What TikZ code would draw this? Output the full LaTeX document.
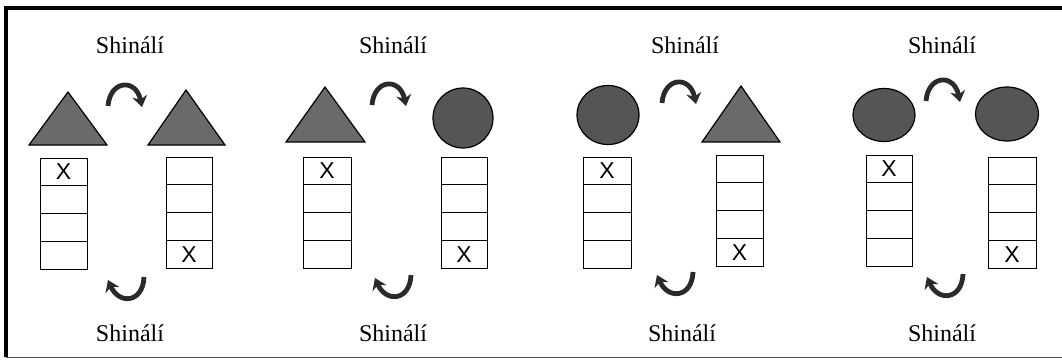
\documentclass[tikz,border=0pt]{standalone}
\usepackage{fontspec}
\setmainfont{Liberation Serif}
\newfontfamily\xfont{Liberation Sans}
\usetikzlibrary{arrows.meta}
\definecolor{trifill}{HTML}{6A6A6A}
\definecolor{circfill}{HTML}{555555}
\definecolor{arrcol}{HTML}{2A2A2A}
\tikzset{
  cell/.style={draw, line width=0.9pt, minimum height=27.75pt, inner sep=0pt, font=\xfont\fontsize{23}{23}\selectfont},
  lbl/.style={inner sep=0pt, font=\fontsize{24}{24}\selectfont},
  tri/.style={draw, line width=1.2pt, fill=trifill, line join=miter},
  circ/.style={draw, line width=1.2pt, fill=circfill},
  turn/.style={draw=arrcol, line width=4.8pt, -{Stealth[length=11pt,width=15pt]}},
  frameline/.style={line width=3.5pt, black}
}
\newcommand{\mystack}[5]{%
  \foreach \i in {1,...,4} {
    \node[cell, minimum width=#4pt] (#1-\i) at (#2, #3+27.75*\i-13.875) {\ifnum\i=#5\relax X\fi};
  }}
\newcommand{\toparc}[3]{%
  \begin{scope}[shift={(#2,#3)}]
    \coordinate (#1s) at (-17,21);
    \coordinate (#1e) at (17,22);
    \draw[turn] (#1s) .. controls (-15,-5) and (11,-7) .. (#1e);
  \end{scope}}
\newcommand{\botarc}[3]{%
  \begin{scope}[shift={(#2,#3)}]
    \coordinate (#1s) at (18,-21);
    \coordinate (#1e) at (-18,-18);
    \draw[turn] (#1s) .. controls (17,5) and (-7,7) .. (#1e);
  \end{scope}}
\begin{document}
\begin{tikzpicture}[x=1pt,y=-1pt]
\useasboundingbox (0,0) rectangle (1062,360);
\fill[white] (0,0) rectangle (1062,360);
% frame
\coordinate (fTL) at (6,8);
\coordinate (fTR) at (1062,8);
\coordinate (fBL) at (6,357);
\coordinate (fBR) at (1062,357);
\draw[frameline] (fTR) -- (fTL) -- (fBL);
\draw[line width=1pt, black!70] (fBL) -- (fBR);

% labels
\foreach \n/\x in {1/130,2/393,3/685,4/942} {
  \node[lbl] (top\n) at (\x,45) {Shinálí};
}
\foreach \n/\x in {1/130,2/393,3/682,4/942} {
  \node[lbl] (bot\n) at (\x,333) {Shinálí};
}

% panel 1
\draw[tri] (29,145) -- (68,92) -- (107,145) -- cycle;
\draw[tri] (148,145) -- (186,90) -- (225,145) -- cycle;
\mystack{s1a}{63.5}{158}{47}{1}
\mystack{s1b}{189}{157}{46}{4}
\toparc{t1}{125}{85}
\botarc{b1}{126}{298}

% panel 2
\draw[tri] (286,142) -- (325,87) -- (365,142) -- cycle;
\draw[circ] (463,118) ellipse [x radius=30pt, y radius=30pt];
\mystack{s2a}{327}{157}{48}{1}
\mystack{s2b}{464}{157}{46}{4}
\toparc{t2}{389}{84}
\botarc{b2}{393}{296}

% panel 3
\draw[circ] (608,115) ellipse [x radius=31pt, y radius=29.5pt];
\draw[tri] (702,142) -- (741,86) -- (780,142) -- cycle;
\mystack{s3a}{607}{157}{48}{1}
\mystack{s3b}{739.5}{155}{47}{4}
\toparc{t3}{679}{82}
\botarc{b3}{675}{293}

% panel 4
\draw[circ] (884,115) ellipse [x radius=31pt, y radius=26.5pt];
\draw[circ] (1007,114) ellipse [x radius=31.5pt, y radius=27pt];
\mystack{s4a}{889}{155}{46}{1}
\mystack{s4b}{1012}{157}{48}{4}
\toparc{t4}{943}{80}
\botarc{b4}{945}{295}
\end{tikzpicture}
\end{document}
